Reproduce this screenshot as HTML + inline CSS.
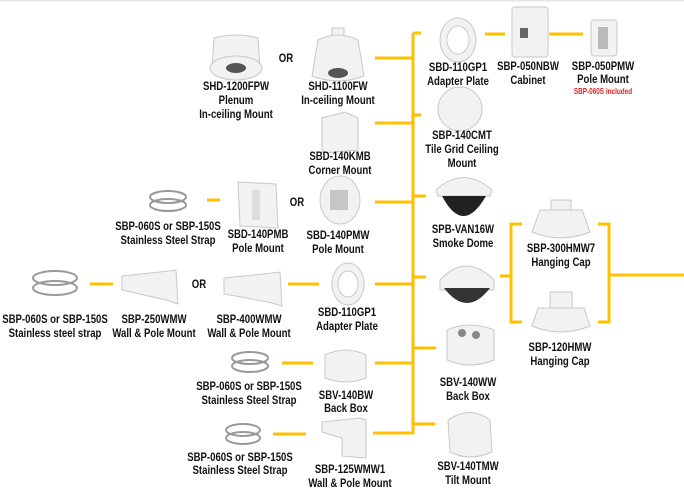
<!DOCTYPE html>
<html><head><meta charset="utf-8">
<style>
html,body{margin:0;padding:0;background:#fff;}
svg{display:block;}
text{font-family:"Liberation Sans",sans-serif;font-weight:bold;font-size:12px;fill:#111;text-anchor:middle;}
.ln{stroke:#FFC000;stroke-width:3;fill:none;}
.p{fill:#f2f2f2;stroke:#c8c8c8;stroke-width:1;}
.d{fill:#555;}
.s{fill:none;stroke:#999;stroke-width:2;}
</style></head><body>
<svg width="684" height="493" viewBox="0 0 684 493" xmlns="http://www.w3.org/2000/svg">
<rect x="0" y="0" width="684" height="1.5" fill="#e6e6e6"/>
<g class="ln">
<path d="M413 33 V434"/>
<path d="M413 33 H421"/>
<path d="M375 58 H413"/>
<path d="M375 123 H413"/>
<path d="M413 115 H421"/>
<path d="M413 196 H426"/>
<path d="M375 202 H413"/>
<path d="M207 200 H220"/>
<path d="M485 34 H505"/>
<path d="M549 34 H583"/>
<path d="M90 284 H113"/>
<path d="M288 284 H319"/>
<path d="M375 284 H413"/>
<path d="M413 277 H426"/>
<path d="M500 276 H511"/>
<path d="M522 224 H511 V322 H522"/>
<path d="M598 224 H609 V322 H598"/>
<path d="M609 275 H684"/>
<path d="M282 363 H313"/>
<path d="M375 363 H413"/>
<path d="M413 348 H436"/>
<path d="M273 434 H306"/>
<path d="M373 433 H413"/>
<path d="M413 424 H435"/>
</g>
<g>
<path class="p" d="M214 38 Q236 32 258 38 L260 68 Q236 80 212 68 Z"/><ellipse class="p" cx="236" cy="68" rx="26" ry="12"/><ellipse class="d" cx="236" cy="68" rx="10" ry="5"/>
<rect class="p" x="332" y="28" width="12" height="10"/><path class="p" d="M318 40 Q338 30 358 40 L364 76 Q338 86 312 76 Z"/><ellipse class="d" cx="338" cy="73" rx="10" ry="5"/>
<path class="p" d="M322 118 L345 112 L358 118 L358 150 L322 153 Z"/>
<ellipse class="s" cx="168" cy="197" rx="18" ry="6"/><ellipse class="s" cx="168" cy="205" rx="18" ry="6"/>
<path class="p" d="M238 182 L276 184 L278 228 L240 226 Z"/><rect x="252" y="190" width="8" height="30" fill="#ddd"/>
<ellipse class="p" cx="340" cy="200" rx="20" ry="24"/><rect x="330" y="190" width="18" height="20" fill="#999" opacity=".5"/>
<ellipse class="p" cx="458" cy="40" rx="18" ry="22"/><ellipse cx="458" cy="40" rx="11" ry="14" fill="#fff" stroke="#ccc"/>
<rect class="p" x="512" y="7" width="36" height="50" rx="3"/><rect x="520" y="28" width="8" height="10" fill="#666"/>
<rect class="p" x="591" y="20" width="26" height="36" rx="3"/><rect x="598" y="27" width="10" height="22" fill="#bbb"/>
<circle class="p" cx="460" cy="109" r="22"/>
<path class="p" d="M436 190 Q463 165 492 190 L490 196 L438 196 Z"/><path d="M442 196 Q463 236 486 196 Z" fill="#222"/>
<rect class="p" x="551" y="200" width="20" height="10"/><path class="p" d="M540 210 L582 210 L590 232 Q561 244 532 232 Z"/>
<ellipse class="s" cx="55" cy="278" rx="22" ry="7"/><ellipse class="s" cx="55" cy="288" rx="22" ry="7"/>
<path class="p" d="M122 276 L160 272 L176 270 L178 304 L166 300 L122 290 Z"/>
<path class="p" d="M224 278 L264 274 L280 272 L282 306 L268 302 L224 294 Z"/>
<ellipse class="p" cx="348" cy="284" rx="16" ry="21"/><ellipse cx="348" cy="284" rx="10" ry="13" fill="#fff" stroke="#ccc"/>
<path class="p" d="M440 280 Q466 252 494 280 L494 290 L440 290 Z"/><path d="M444 288 Q467 318 490 288 Z" fill="#333"/>
<rect class="p" x="550" y="292" width="22" height="18"/><path class="p" d="M538 308 L584 308 L590 326 Q561 338 532 326 Z"/>
<ellipse class="s" cx="250" cy="358" rx="18" ry="6"/><ellipse class="s" cx="250" cy="366" rx="18" ry="6"/>
<path class="p" d="M325 355 Q346 345 366 355 L366 378 Q346 386 325 378 Z"/>
<path class="p" d="M447 330 Q470 320 494 330 L494 360 Q470 370 447 360 Z"/><circle cx="462" cy="333" r="4" fill="#888"/><circle cx="476" cy="335" r="4" fill="#888"/>
<ellipse class="s" cx="243" cy="430" rx="17" ry="6"/><ellipse class="s" cx="243" cy="438" rx="17" ry="6"/>
<path class="p" d="M322 422 L360 418 L366 420 L366 458 L342 456 L342 438 L322 432 Z"/>
<path class="p" d="M448 420 Q470 405 490 420 L492 452 Q470 462 450 452 Z"/>
</g>
<g transform="scale(0.8 1)">
<text x="357.5" y="62">OR</text>
<text x="371.25" y="206">OR</text>
<text x="248.75" y="288">OR</text>
<text x="295" y="90">SHD-1200FPW</text><text x="295" y="104">Plenum</text><text x="295" y="118">In-ceiling Mount</text>
<text x="422.5" y="90">SHD-1100FW</text><text x="422.5" y="104">In-ceiling Mount</text>
<text x="572.5" y="71">SBD-110GP1</text><text x="572.5" y="85">Adapter Plate</text>
<text x="660" y="70">SBP-050NBW</text><text x="660" y="84">Cabinet</text>
<text x="753.75" y="70">SBP-050PMW</text><text x="753.75" y="83">Pole Mount</text>
<text x="753.75" y="94" style="font-size:8px;fill:#e02020">SBP-060S included</text>
<text x="577.5" y="139">SBP-140CMT</text><text x="577.5" y="153">Tile Grid Ceiling</text><text x="577.5" y="167">Mount</text>
<text x="425" y="160">SBD-140KMB</text><text x="425" y="174">Corner Mount</text>
<text x="210" y="230">SBP-060S or SBP-150S</text><text x="210" y="244">Stainless Steel Strap</text>
<text x="322.5" y="238">SBD-140PMB</text><text x="322.5" y="252">Pole Mount</text>
<text x="422.5" y="239">SBD-140PMW</text><text x="422.5" y="253">Pole Mount</text>
<text x="578.75" y="233">SPB-VAN16W</text><text x="578.75" y="247">Smoke Dome</text>
<text x="701.25" y="252">SBP-300HMW7</text><text x="701.25" y="266">Hanging Cap</text>
<text x="68.75" y="323">SBP-060S or SBP-150S</text><text x="68.75" y="337">Stainless steel strap</text>
<text x="192.5" y="323">SBP-250WMW</text><text x="192.5" y="337">Wall &amp; Pole Mount</text>
<text x="311.25" y="323">SBP-400WMW</text><text x="311.25" y="337">Wall &amp; Pole Mount</text>
<text x="433.75" y="316">SBD-110GP1</text><text x="433.75" y="330">Adapter Plate</text>
<text x="700" y="351">SBP-120HMW</text><text x="700" y="365">Hanging Cap</text>
<text x="311.25" y="390">SBP-060S or SBP-150S</text><text x="311.25" y="404">Stainless Steel Strap</text>
<text x="432.5" y="399">SBV-140BW</text><text x="432.5" y="412">Back Box</text>
<text x="585" y="386">SBV-140WW</text><text x="585" y="400">Back Box</text>
<text x="300" y="461">SBP-060S or SBP-150S</text><text x="300" y="474">Stainless Steel Strap</text>
<text x="437.5" y="473">SBP-125WMW1</text><text x="437.5" y="487">Wall &amp; Pole Mount</text>
<text x="585" y="470">SBV-140TMW</text><text x="585" y="484">Tilt Mount</text>
</g>
</svg>
</body></html>
